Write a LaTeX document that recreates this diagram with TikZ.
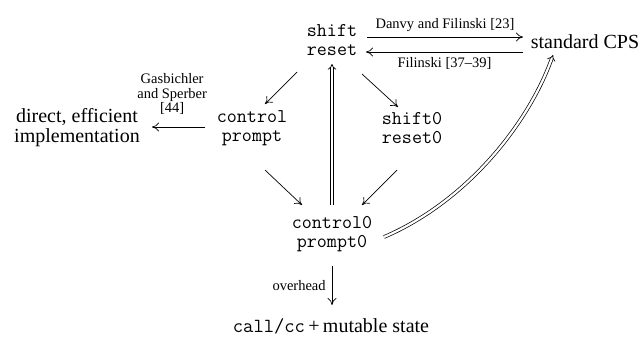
\documentclass[tikz,border=0pt]{standalone}
\usepackage{fontspec}
\setmainfont{Liberation Serif}
\usetikzlibrary{arrows.meta}
\begin{document}
\begin{tikzpicture}[x=1pt,y=-1pt,
  main/.style={font=\fontsize{20}{20}\selectfont, align=center, inner sep=0pt},
  code/.style={font=\fontsize{19.5}{19.5}\ttfamily, align=center, inner sep=0pt},
  lbl/.style={font=\fontsize{14.5}{14.5}\selectfont, align=center, inner sep=0pt},
  arr/.style={-{To[length=7pt,width=9pt]}, line width=0.7pt},
  dbl/.style={double, double distance=2.2pt, line width=0.7pt, -{Implies[length=6pt]}}
]
\useasboundingbox (0,0) rectangle (644,341);

\node[code] (sr)  at (332,40)  {shift\\reset};
\node[main] (cps) at (585,42)  {standard CPS};
\node[code] (cp)  at (252,128) {control\\prompt};
\node[main] (dir) at (77,128)  {direct, efficient\\implementation};
\node[code] (sr0) at (412,128) {shift0\\reset0};
\node[code] (cp0) at (332,234) {control0\\prompt0};
\node[main] (cc)  at (331,326) {\texttt{call/cc}\,+\,mutable state};

% arrows between shift/reset and standard CPS
\coordinate (a1) at (367,37);  \coordinate (b1) at (523,37);
\coordinate (a2) at (523,52);  \coordinate (b2) at (366,52);
\draw[arr] (a1) -- node[lbl, above=5pt] {Danvy and Filinski [23]} (b1);
\draw[arr] (a2) -- node[lbl, below=5pt] {Filinski [37--39]} (b2);

% control/prompt to direct implementation
\coordinate (c1) at (205,127); \coordinate (c2) at (152,127);
\draw[arr] (c1) -- node[lbl, above=12pt, pos=0.62] {Gasbichler\\and Sperber\\{}[44]} (c2);

% diagonal arrows
\coordinate (d1) at (297,72); \coordinate (d2) at (265,104);
\draw[arr] (d1) -- (d2);
\coordinate (e1) at (362,74); \coordinate (e2) at (398,107);
\draw[arr] (e1) -- (e2);
\coordinate (f1) at (265,170); \coordinate (f2) at (302,205);
\draw[arr] (f1) -- (f2);
\coordinate (g1) at (397,170); \coordinate (g2) at (362,205);
\draw[arr] (g1) -- (g2);

% double arrows
\coordinate (h1) at (332,205); \coordinate (h2) at (332,64);
\draw[dbl] (h1) -- (h2);
\coordinate (i1) at (384,237); \coordinate (i2) at (553,55);
\draw[dbl] (i1) .. controls (470,200) and (530,120) .. (i2);

% overhead
\coordinate (j1) at (332,266); \coordinate (j2) at (332,305);
\draw[arr] (j1) -- node[lbl, left=6pt] {overhead} (j2);
\end{tikzpicture}
\end{document}
